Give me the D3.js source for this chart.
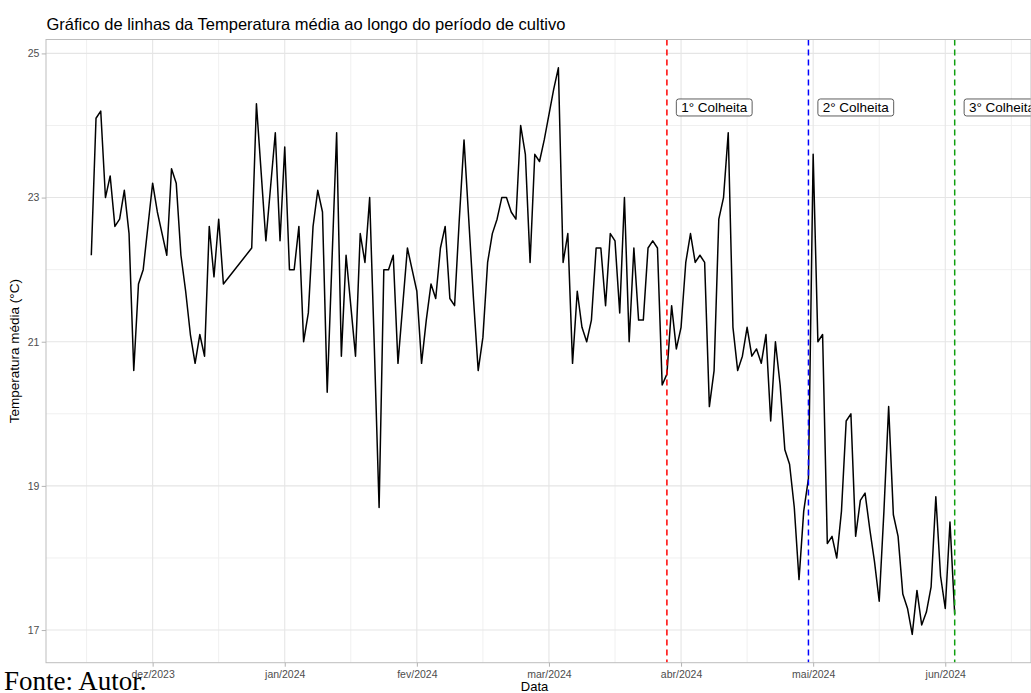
<!DOCTYPE html>
<html>
<head>
<meta charset="utf-8">
<script src="https://cdn.jsdelivr.net/npm/d3@7"></script>
<style>
  body { margin: 0; background: #fff; }
  svg { display: block; font-family: "Liberation Sans", Arial, sans-serif; }
</style>
</head>
<body>
<svg id="chart" width="1031" height="693"></svg>
<script>
// daily mean temperature, one value per day from startDate (null = day without record)
var startDate = "2023-12-04";
var tempMedia = [
  22.2, 24.1, 24.2, 23.0, 23.3, 22.6, 22.7, 23.1, 22.5, 20.6,
  21.8, 22.0, 22.6, 23.2, 22.8, 22.5, 22.2, 23.4, 23.2, 22.2,
  21.7, 21.1, 20.7, 21.1, 20.8, 22.6, 21.9, 22.7, 21.8, null,
  null, null, null, null, 22.3, 24.3, 23.35, 22.4, 23.15, 23.9,
  22.4, 23.7, 22.0, 22.0, 22.6, 21.0, 21.4, 22.6, 23.1, 22.8,
  20.3, 22.1, 23.9, 20.8, 22.2, 21.5, 20.8, 22.5, 22.1, 23.0,
  20.9, 18.7, 22.0, 22.0, 22.2, 20.7, 21.5, 22.3, 22.0, 21.7,
  20.7, 21.3, 21.8, 21.6, 22.3, 22.6, 21.6, 21.5, 22.7, 23.8,
  22.7, 21.6, 20.6, 21.06, 22.1, 22.5, 22.7, 23.0, 23.0, 22.8,
  22.7, 24.0, 23.6, 22.1, 23.6, 23.5, 23.8, 24.15, 24.5, 24.8,
  22.1, 22.5, 20.7, 21.7, 21.2, 21.0, 21.3, 22.3, 22.3, 21.5,
  22.5, 22.4, 21.4, 23.0, 21.0, 22.3, 21.3, 21.3, 22.3, 22.4,
  22.3, 20.4, 20.55, 21.5, 20.9, 21.2, 22.1, 22.5, 22.1, 22.2,
  22.1, 20.1, 20.6, 22.7, 23.0, 23.9, 21.2, 20.6, 20.8, 21.2,
  20.8, 20.9, 20.7, 21.1, 19.9, 21.0, 20.4, 19.5, 19.3, 18.7,
  17.7, 18.65, 19.1, 23.6, 21.0, 21.1, 18.2, 18.3, 18.0, 18.65,
  19.9, 20.0, 18.3, 18.8, 18.9, 18.4, 17.95, 17.4, 18.65, 20.1,
  18.6, 18.3, 17.5, 17.3, 16.94, 17.55, 17.07, 17.25, 17.6, 18.85,
  17.75, 17.3, 18.5, 17.22
];

var tickDates = ["2023-12-17", "2024-01-14", "2024-02-11", "2024-03-10",
  "2024-04-07", "2024-05-05", "2024-06-02"];
var yTicks = [17, 19, 21, 23, 25];
var yMinor = [18, 20, 22, 24];

var harvestDates = ["2024-04-04", "2024-05-04", "2024-06-04"];
var harvestLabels = ["1° Colheita", "2° Colheita", "3° Colheita"];
var harvestColors = ["#ff0000", "#0000ff", "#10a010"];
var labelY = 24.25;

var parseDate = d3.utcParse("%Y-%m-%d");

var ptBR = d3.timeFormatLocale({
  dateTime: "%A, %e de %B de %Y. %X",
  date: "%d/%m/%Y",
  time: "%H:%M:%S",
  periods: ["AM", "PM"],
  days: ["domingo", "segunda", "terça", "quarta", "quinta", "sexta", "sábado"],
  shortDays: ["dom", "seg", "ter", "qua", "qui", "sex", "sáb"],
  months: ["janeiro", "fevereiro", "março", "abril", "maio", "junho", "julho",
    "agosto", "setembro", "outubro", "novembro", "dezembro"],
  shortMonths: ["jan", "fev", "mar", "abr", "mai", "jun", "jul", "ago", "set", "out", "nov", "dez"]
});
var formatMonth = ptBR.utcFormat("%b/%Y");

var t0 = parseDate(startDate);
var data = tempMedia
  .map((v, i) => ({ date: d3.utcDay.offset(t0, i), value: v }))
  .filter((d) => d.value !== null);

var svg = d3.select("#chart"),
  panel = { left: 46, right: 1031, top: 39.5, bottom: 662.7 };

var x = d3.scaleUtc()
  .domain(d3.extent(data, (d) => d.date))
  .range([91.3, 954.7]);

// ggplot-like 5% expansion of the data range
var ext = d3.extent(data, (d) => d.value),
  pad = (ext[1] - ext[0]) * 0.05;
var y = d3.scaleLinear()
  .domain([ext[0] - pad, ext[1] + pad])
  .range([panel.bottom, panel.top]);

svg.append("defs").append("clipPath").attr("id", "panel-clip")
  .append("rect")
  .attr("x", panel.left).attr("y", panel.top)
  .attr("width", panel.right - panel.left).attr("height", panel.bottom - panel.top);

// title
svg.append("text")
  .attr("x", 46.5).attr("y", 29.5)
  .attr("font-size", 16.5)
  .attr("fill", "#000")
  .text("Gráfico de linhas da Temperatura média ao longo do período de cultivo");

// grid
var majorX = tickDates.map(parseDate);
var minorX = [d3.utcDay.offset(majorX[0], -14)].concat(majorX.map((d) => d3.utcDay.offset(d, 14)));

var grid = svg.append("g").attr("clip-path", "url(#panel-clip)");

grid.selectAll(".minor-y").data(yMinor).enter().append("line")
  .attr("x1", panel.left).attr("x2", panel.right)
  .attr("y1", (d) => y(d)).attr("y2", (d) => y(d))
  .style("stroke", "#f0f0f0").attr("stroke-width", 1);

grid.selectAll(".minor-x").data(minorX).enter().append("line")
  .attr("x1", (d) => x(d)).attr("x2", (d) => x(d))
  .attr("y1", panel.top).attr("y2", panel.bottom)
  .style("stroke", "#f0f0f0").attr("stroke-width", 1);

grid.selectAll(".major-y").data(yTicks).enter().append("line")
  .attr("x1", panel.left).attr("x2", panel.right)
  .attr("y1", (d) => y(d)).attr("y2", (d) => y(d))
  .style("stroke", "#e5e5e5").attr("stroke-width", 1.1);

grid.selectAll(".major-x").data(majorX).enter().append("line")
  .attr("x1", (d) => x(d)).attr("x2", (d) => x(d))
  .attr("y1", panel.top).attr("y2", panel.bottom)
  .style("stroke", "#e5e5e5").attr("stroke-width", 1.1);

// temperature line
var line = d3.line()
  .x((d) => x(d.date))
  .y((d) => y(d.value));

svg.append("path")
  .datum(data)
  .attr("clip-path", "url(#panel-clip)")
  .attr("d", line)
  .style("fill", "none")
  .style("stroke", "#000")
  .attr("stroke-width", 1.5)
  .attr("stroke-linejoin", "round");

// harvest markers
var harvests = harvestDates.map((d, i) => ({
  date: parseDate(d), label: harvestLabels[i], color: harvestColors[i]
}));

var hv = svg.append("g").attr("clip-path", "url(#panel-clip)");

hv.selectAll(".vline").data(harvests).enter().append("line")
  .attr("x1", (d) => x(d.date)).attr("x2", (d) => x(d.date))
  .attr("y1", panel.top).attr("y2", panel.bottom)
  .style("stroke", (d) => d.color)
  .attr("stroke-width", 1.5)
  .attr("stroke-dasharray", "6,4");

var lab = hv.selectAll(".hlabel").data(harvests).enter().append("g")
  .attr("transform", (d) => "translate(" + x(d3.utcDay.offset(d.date, 2)) + "," + y(labelY) + ")");

lab.append("text")
  .attr("x", 4.8)
  .attr("dy", "0.36em")
  .attr("font-size", 13.5)
  .attr("fill", "#000")
  .text((d) => d.label);

lab.each(function () {
  var g = d3.select(this),
    w = g.select("text").node().getComputedTextLength();
  g.insert("rect", "text")
    .attr("x", 0).attr("y", -8.5)
    .attr("width", w + 9.6).attr("height", 17)
    .attr("rx", 2.5)
    .style("fill", "#fff")
    .style("stroke", "#333")
    .attr("stroke-width", 0.8);
});

// panel border
svg.append("rect")
  .attr("x", panel.left).attr("y", panel.top)
  .attr("width", panel.right - panel.left).attr("height", panel.bottom - panel.top)
  .style("fill", "none")
  .style("stroke", "#bdbdbd")
  .attr("stroke-width", 1);

// axes
var xAxis = svg.append("g")
  .attr("transform", "translate(0," + panel.bottom + ")")
  .call(d3.axisBottom(x).tickValues(majorX).tickFormat(formatMonth).tickSize(4).tickPadding(4));

var yAxis = svg.append("g")
  .attr("transform", "translate(" + panel.left + ",0)")
  .call(d3.axisLeft(y).tickValues(yTicks).tickSize(4.3).tickPadding(2.4));

[xAxis, yAxis].forEach((a) => {
  a.select(".domain").remove();
  a.selectAll(".tick line").style("stroke", "#b3b3b3");
  a.selectAll(".tick text")
    .attr("font-size", 10.5)
    .attr("font-family", "Liberation Sans, Arial, sans-serif")
    .style("fill", "#4d4d4d");
});

// axis titles
svg.append("text")
  .attr("x", (panel.left + panel.right) / 2 - 4)
  .attr("y", 691)
  .attr("text-anchor", "middle")
  .attr("font-size", 13)
  .text("Data");

svg.append("text")
  .attr("transform", "translate(19," + (panel.top + panel.bottom) / 2 + ") rotate(-90)")
  .attr("text-anchor", "middle")
  .attr("font-size", 13.5)
  .text("Temperatura média (°C)");

// source note
svg.append("text")
  .attr("x", 4)
  .attr("y", 690)
  .attr("font-family", "Liberation Serif, Times New Roman, serif")
  .attr("font-size", 27)
  .text("Fonte: Autor.");
</script>
</body>
</html>
